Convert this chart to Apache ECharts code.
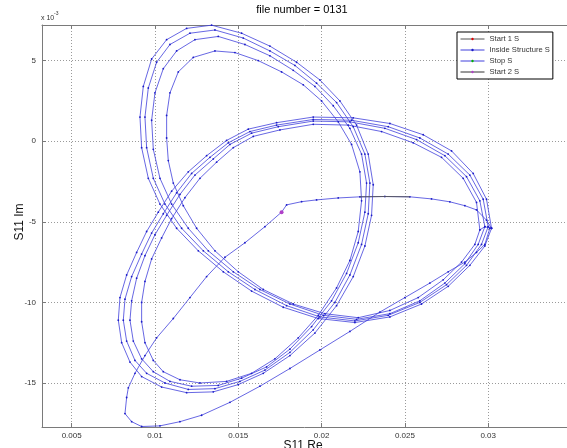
<!DOCTYPE html>
<html><head><meta charset="utf-8">
<script src="https://cdn.jsdelivr.net/npm/echarts@6/dist/echarts.min.js"></script>
<style>html,body{margin:0;padding:0;background:#fff}#c{width:567px;height:448px}</style>
</head><body><div id="c"></div>
<script>
// Both coordinates stored in units of 1e-3 (x labels show the real value, y uses "x 10^-3")
const xTickLabels = ['0.005','0.01','0.015','0.02','0.025','0.03'];
const yTickLabels = ['-15','-10','-5','0','5'];

const startLeg = [[17.6,-4.4],[17.9,-3.95],[18.8,-3.75],[19.7,-3.64],[21.0,-3.52],[22.3,-3.45],[23.8,-3.43],[25.3,-3.45],[26.6,-3.58],[27.7,-3.76],[28.6,-4.0],[29.3,-4.26],[29.9,-4.9],[30.2,-5.4]];
const startDark = [[22.3,-3.45],[23.8,-3.43],[25.3,-3.45]];
const diagLeg = [[17.6,-4.4],[16.6,-5.3],[15.4,-6.3],[14.2,-7.2],[13.1,-8.4],[12.1,-9.7],[11.1,-11.0],[10.1,-12.2],[9.4,-13.3],[8.8,-14.4],[8.4,-15.3],[8.3,-15.9],[8.2,-16.9],[8.6,-17.4],[9.2,-17.7],[10.3,-17.66],[11.5,-17.4],[12.8,-17.0],[14.5,-16.2],[16.3,-15.2],[18.1,-14.1],[19.9,-12.95],[21.7,-11.8],[23.5,-10.6],[25.0,-9.7],[26.5,-8.8],[27.6,-8.1],[28.6,-7.5],[29.3,-6.9],[29.8,-6.4],[30.1,-5.4]];

const pass1RL = [[30.2,-5.4],[29.9,-3.6],[29.1,-2.0],[27.8,-0.6],[26.1,0.4],[24.1,1.1],[21.9,1.45],[19.5,1.5],[17.3,1.15],[15.6,0.75],[14.3,0.05],[13.1,-0.9],[12.0,-1.9],[11.0,-3.1],[10.2,-4.4],[9.5,-5.6],[8.9,-6.9],[8.3,-8.3],[7.9,-9.7],[7.8,-11.1],[8.0,-12.5],[8.5,-13.7],[9.2,-14.6],[10.4,-15.25],[11.9,-15.6]];
const pass1LT = [[13.5,-15.55],[15.0,-15.1],[16.5,-14.4],[18.1,-13.3],[19.6,-11.9],[20.9,-10.2],[21.9,-8.4],[22.6,-6.5],[23.0,-4.6],[23.1,-2.7],[22.8,-0.8],[22.1,1.0],[21.1,2.5],[19.9,3.8],[18.5,4.9],[16.9,5.9],[15.2,6.7],[13.4,7.2]];
const pass1TR = [[11.9,7.0],[10.7,6.3],[9.8,5.1],[9.3,3.4],[9.1,1.5],[9.2,-0.4],[9.6,-2.3],[10.3,-3.9],[11.3,-5.4],[12.6,-6.8],[14.1,-8.1],[15.8,-9.3],[17.7,-10.3],[19.8,-11.0],[22.0,-11.25],[24.1,-10.9],[26.0,-10.1],[27.6,-9.0],[28.9,-7.7],[29.8,-6.5],[30.2,-5.4]];

const pass2RL = [[30.0,-5.3],[29.7,-3.6],[28.9,-2.1],[27.6,-0.8],[25.9,0.2],[24.0,0.9],[21.8,1.3],[19.5,1.35],[17.3,1.0],[15.7,0.6],[14.4,-0.1],[13.3,-1.0],[12.2,-2.0],[11.3,-3.2],[10.5,-4.5],[9.8,-5.7],[9.2,-7.0],[8.6,-8.4],[8.2,-9.8],[8.1,-11.1],[8.3,-12.4],[8.8,-13.6],[9.5,-14.4],[10.6,-15.0],[12.0,-15.4]];
const pass2LT = [[13.6,-15.35],[15.1,-14.9],[16.6,-14.2],[18.1,-13.1],[19.5,-11.7],[20.8,-10.0],[21.7,-8.3],[22.4,-6.4],[22.8,-4.5],[22.9,-2.6],[22.6,-0.8],[21.9,0.9],[20.9,2.4],[19.7,3.6],[18.4,4.7],[16.9,5.6],[15.3,6.4],[13.6,6.9]];
const pass2TR = [[12.1,6.7],[10.9,6.0],[10.1,4.9],[9.6,3.3],[9.4,1.5],[9.5,-0.4],[9.9,-2.3],[10.6,-3.9],[11.6,-5.4],[12.9,-6.8],[14.4,-8.1],[16.0,-9.2],[17.9,-10.2],[19.9,-10.9],[22.0,-11.15],[24.0,-10.8],[25.9,-10.0],[27.5,-8.9],[28.7,-7.7],[29.6,-6.4],[30.0,-5.3]];

const pass3RL = [[29.8,-5.3],[29.5,-3.7],[28.7,-2.2],[27.4,-0.9],[25.7,0.1],[23.8,0.8],[21.7,1.2],[19.5,1.25],[17.4,0.9],[15.8,0.5],[14.5,-0.2],[13.5,-1.1],[12.4,-2.1],[11.5,-3.3],[10.7,-4.6],[10.0,-5.8],[9.4,-7.1],[8.9,-8.5],[8.6,-9.9],[8.5,-11.1],[8.7,-12.4],[9.2,-13.5],[9.9,-14.3],[10.9,-14.9],[12.2,-15.2]];
const pass3LT = [[13.8,-15.15],[15.2,-14.7],[16.7,-14.0],[18.1,-12.9],[19.4,-11.5],[20.6,-9.9],[21.5,-8.2],[22.2,-6.3],[22.6,-4.4],[22.7,-2.6],[22.4,-0.8],[21.7,0.8],[20.7,2.2],[19.6,3.4],[18.3,4.4],[16.9,5.3],[15.4,6.0],[13.8,6.5]];
const pass3TR = [[12.4,6.3],[11.3,5.6],[10.5,4.5],[10.0,3.0],[9.8,1.3],[9.9,-0.5],[10.3,-2.3],[11.0,-3.9],[12.0,-5.4],[13.2,-6.8],[14.7,-8.1],[16.3,-9.2],[18.1,-10.1],[20.1,-10.8],[22.1,-11.05],[24.1,-10.7],[25.9,-9.9],[27.4,-8.8],[28.6,-7.6],[29.4,-6.4],[29.8,-5.3]];

const pass4RL = [[29.5,-5.5],[29.3,-3.8],[28.5,-2.3],[27.2,-1.0],[25.5,-0.1],[23.6,0.6],[21.6,1.0],[19.5,1.05],[17.5,0.7],[15.9,0.3],[14.7,-0.4],[13.7,-1.3],[12.7,-2.3],[11.8,-3.5],[11.0,-4.8],[10.4,-6.0],[9.8,-7.3],[9.4,-8.7],[9.2,-10.0],[9.2,-11.2],[9.4,-12.5],[9.9,-13.6],[10.5,-14.3],[11.5,-14.8],[12.7,-15.0]];
const pass4LT = [[14.3,-14.9],[15.8,-14.4],[17.2,-13.5],[18.6,-12.2],[19.8,-10.8],[20.9,-9.1],[21.7,-7.4],[22.2,-5.6],[22.4,-3.7],[22.3,-1.9],[21.8,-0.2],[21.0,1.2],[20.0,2.5],[18.9,3.5],[17.6,4.3],[16.2,5.0],[14.8,5.5],[13.6,5.6]];
const pass4TR = [[12.3,5.2],[11.4,4.3],[10.9,3.0],[10.7,1.6],[10.7,0.2],[10.8,-1.2],[11.1,-2.6],[11.7,-4.0],[12.5,-5.4],[13.6,-6.8],[15.0,-8.1],[16.5,-9.2],[18.3,-10.1],[20.2,-10.7],[22.2,-10.95],[24.1,-10.5],[25.8,-9.7],[27.3,-8.6],[28.4,-7.5],[29.2,-6.4],[29.5,-5.5]];

const startMarker = [[17.6,-4.4]];
const stopPoints = [];

const traceA = [].concat(startLeg, pass1RL, pass1LT, pass1TR, pass2RL, pass2LT, pass2TR);
const traceB = [].concat(diagLeg, pass3RL, pass3LT, pass3TR, pass4RL, pass4LT, pass4TR);

const BLUE = '#4040dc';
const FONT = '"Liberation Sans", Arial, sans-serif';
const isTick = v => Math.abs(v/5 - Math.round(v/5)) < 1e-6;
const XMIN = 3.22, XMAX = 34.73;

function blueTrace(data){
  return {type:'line', name:'Inside Structure S', data, symbol:'circle', symbolSize:1.8, showSymbol:true,
    lineStyle:{color:BLUE, width:0.8}, itemStyle:{color:'#1c1cc8'}, z:2, silent:true, animation:false};
}

const chart = echarts.init(document.getElementById('c'), null, {renderer:'canvas'});
chart.setOption({
  backgroundColor:'#fff',
  animation:false,
  grid:{left:42, top:25, bottom:21, right:0, containLabel:false},
  xAxis:[{
    type:'value', min:XMIN, max:XMAX, splitNumber:7,
    axisLine:{show:true, onZero:false, lineStyle:{color:'#7a7a7a', width:1}},
    axisTick:{show:true, inside:true, length:4, lineStyle:{color:'#7a7a7a'}},
    axisLabel:{margin:5, fontSize:8, color:'#333', fontFamily:FONT, showMaxLabel:false,
      formatter:v => isTick(v) ? xTickLabels[Math.round(v/5)-1] : ''},
    splitLine:{show:true, lineStyle:{color:'#9a9a9a', width:1, type:[1,2]}}
  },{
    type:'value', position:'top', min:XMIN, max:XMAX, splitNumber:7,
    axisLine:{show:true, onZero:false, lineStyle:{color:'#7a7a7a', width:1}},
    axisTick:{show:true, inside:true, length:4, lineStyle:{color:'#7a7a7a'}},
    axisLabel:{show:false}, splitLine:{show:false}
  }],
  yAxis:{
    type:'value', min:-17.73, max:7.21, splitNumber:5,
    axisLine:{show:true, onZero:false, lineStyle:{color:'#7a7a7a', width:1}},
    axisTick:{show:true, inside:true, length:4, lineStyle:{color:'#7a7a7a'}},
    axisLabel:{margin:6, fontSize:8, color:'#333', fontFamily:FONT,
      formatter:v => isTick(v) ? yTickLabels[Math.round(v/5)+3] : ''},
    splitLine:{show:true, lineStyle:{color:'#9a9a9a', width:1, type:[1,2]}}
  },
  legend:{
    orient:'vertical', left:457, top:32, padding:[3,3,3,3], itemGap:3,
    itemWidth:24, itemHeight:3, borderColor:'#000', borderWidth:1, borderRadius:0,
    backgroundColor:'#fff', selectedMode:false,
    lineStyle:{width:1},
    textStyle:{fontSize:7.6, color:'#333', fontFamily:FONT},
    data:['Start 1 S','Inside Structure S','Stop S','Start 2 S']
  },
  graphic:[
    {type:'text', x:302, y:10, style:{text:'file number = 0131', font:'11px '+FONT, fill:'#000', align:'center', verticalAlign:'middle', textAlign:'center', textVerticalAlign:'middle'}},
    {type:'text', x:41, y:18, style:{text:'x 10', font:'7px '+FONT, fill:'#333', align:'left', verticalAlign:'middle', textAlign:'left', textVerticalAlign:'middle'}},
    {type:'text', x:54, y:14, style:{text:'-3', font:'5px '+FONT, fill:'#333', align:'left', verticalAlign:'middle', textAlign:'left', textVerticalAlign:'middle'}},
    {type:'text', x:303, y:446, style:{text:'S11 Re', font:'12px '+FONT, fill:'#111', align:'center', verticalAlign:'middle', textAlign:'center', textVerticalAlign:'middle'}},
    {type:'text', x:20, y:222, rotation:Math.PI/2, style:{text:'S11 Im', font:'12px '+FONT, fill:'#111', align:'center', verticalAlign:'middle', textAlign:'center', textVerticalAlign:'middle'}}
  ],
  series:[
    blueTrace(traceA),
    blueTrace(traceB),
    {type:'line', name:'Start 1 S', data:startDark, showSymbol:false, symbol:'circle',
      lineStyle:{color:'#555', width:0.9}, itemStyle:{color:'#e00000'}, z:3, silent:true},
    {type:'line', name:'Stop S', data:stopPoints, symbol:'circle', symbolSize:3,
      lineStyle:{color:BLUE, width:0.9}, itemStyle:{color:'#00b000'}, z:3, silent:true},
    {type:'line', name:'Start 2 S', data:startMarker, symbol:'circle', symbolSize:4, showSymbol:true,
      lineStyle:{color:'#333', width:0.9}, itemStyle:{color:'#b040c8'}, z:4, silent:true}
  ]
});
</script></body></html>
